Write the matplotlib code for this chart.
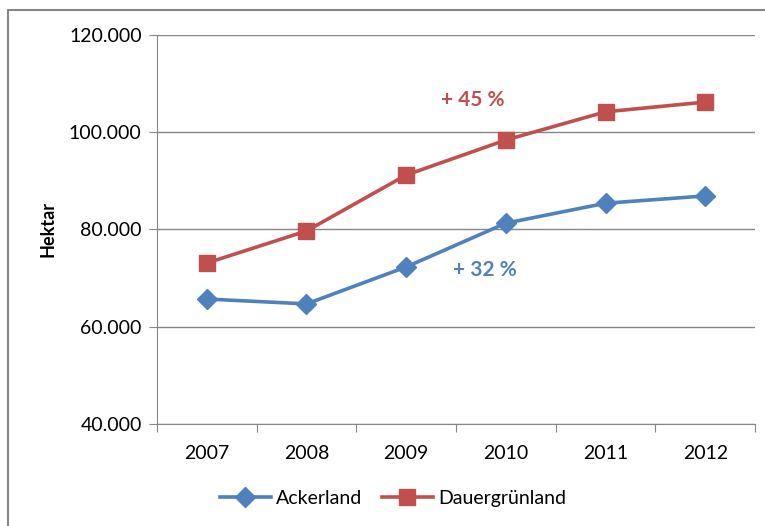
import numpy as np
import matplotlib.pyplot as plt
from matplotlib.patches import Rectangle
from matplotlib.ticker import FuncFormatter, FixedLocator

plt.rcParams['font.family'] = ['Lato', 'DejaVu Sans']

# data (hectares)
years = ['2007', '2008', '2009', '2010', '2011', '2012']
ackerland = [65700, 64700, 72300, 81300, 85400, 86900]
dauergruenland = [73100, 79700, 91200, 98400, 104200, 106200]

blue = '#4F81BD'
red = '#C0504D'
grey = '#868686'

fig = plt.figure(figsize=(7.65, 5.26), dpi=100)
ax = fig.add_axes([0.2052, 0.1939, 0.987 - 0.2052, 0.9335 - 0.1939])

# outer chart border
fig.patches.append(Rectangle((8 / 765, -0.05), 1.1, 1 - 10 / 526 + 0.05,
                             transform=fig.transFigure, fill=False,
                             edgecolor=grey, linewidth=1.5))

x = np.arange(len(years))
ax.plot(x, ackerland, color=blue, lw=2.6, marker='D', ms=10.5, label='Ackerland')
ax.plot(x, dauergruenland, color=red, lw=2.6, marker='s', ms=11, label='Dauergrünland')

ax.text(2.67, 106600, '+ 45 %', color=red, fontsize=15, fontweight='bold', ha='center', va='center')
ax.text(2.79, 71700, '+ 32 %', color=blue, fontsize=15, fontweight='bold', ha='center', va='center')

ax.set_xlim(-0.5, len(years) - 0.5)
ax.set_ylim(40000, 120000)
ax.set_yticks([40000, 60000, 80000, 100000, 120000])
ax.yaxis.set_major_formatter(FuncFormatter(lambda v, p: f'{int(v):,}'.replace(',', '.')))
ax.yaxis.grid(True, color=grey, lw=1)
ax.set_axisbelow(True)

# category ticks between categories, labels centered
ax.xaxis.set_major_locator(FixedLocator(np.arange(-0.5, len(years), 1.0)))
ax.xaxis.set_major_formatter(FuncFormatter(lambda v, p: ''))
ax.set_xticks(x, minor=True)
ax.set_xticklabels(years, minor=True)
ax.tick_params(axis='x', which='minor', length=0, pad=15, labelsize=14)
ax.tick_params(axis='x', which='major', length=6, color=grey, direction='out')
ax.tick_params(axis='y', length=6, color=grey, labelsize=14, pad=5)

for s in ['top', 'right']:
    ax.spines[s].set_visible(False)
for s in ['left', 'bottom']:
    ax.spines[s].set_color(grey)

ax.set_ylabel('Hektar', fontsize=13, fontweight='bold', labelpad=9)

ax.legend(loc='upper center', bbox_to_anchor=(0.395, -0.125), ncol=2, frameon=False,
          fontsize=14, handlelength=2.6, columnspacing=1.0, handletextpad=0.3)

fig.savefig('out.png', dpi=100)
